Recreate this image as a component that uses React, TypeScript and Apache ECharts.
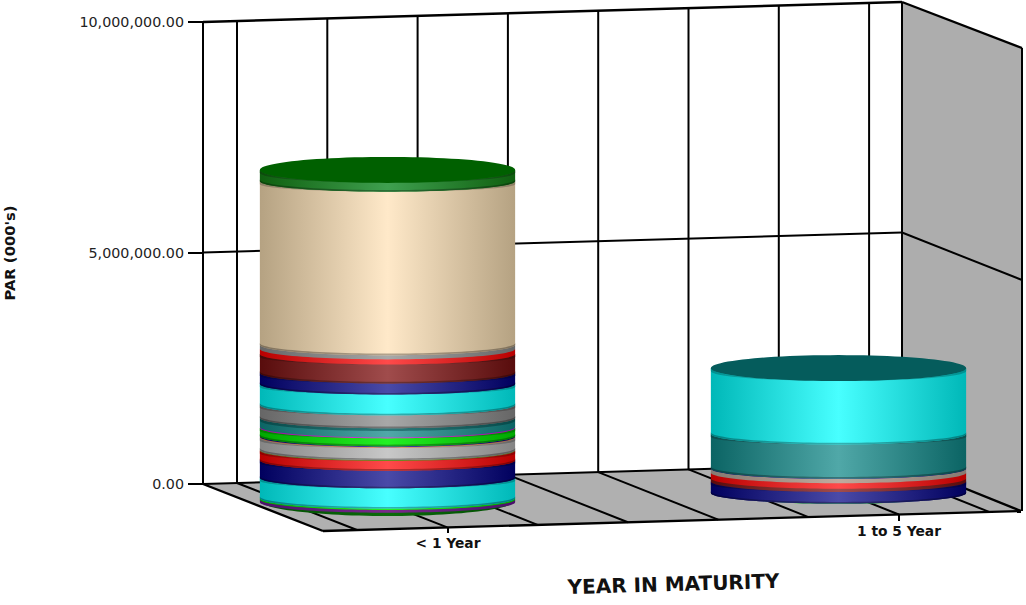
import React, { useEffect, useRef } from "react";
import * as echarts from "echarts";

const categories = ["< 1 Year", "1 to 5 Year"];
const yTicks = [0, 5000000, 10000000];

// stacked layers, bottom to top
const shortValues = [70000, 60000, 30000, 440000, 380000, 210000, 20000, 260000, 20000, 20000, 170000, 20000, 140000, 60000, 280000, 450000, 240000, 410000, 110000, 90000, 3540000, 190000];
const shortLayers = ["forest", "purple", "lime", "cyan", "navy", "red", "olive", "silver", "copper", "navy", "lime", "magenta", "teal", "deepTeal", "gray", "cyan", "navy", "maroon", "red", "gray", "tan", "rim"];
const longValues = [10000, 250000, 70000, 120000, 90000, 10000, 740000, 1370000];
const longLayers = ["lime", "navy", "maroon", "red", "rose", "navy", "teal", "cyan"];

const palette: Record<string, [string, string]> = {
  forest: ["#004d00", "#0a6a0a"],
  purple: ["#4b0f6b", "#7a2a8a"],
  lime: ["#00a800", "#24f024"],
  cyan: ["#00b8b8", "#48ffff"],
  navy: ["#00005e", "#4a4aa8"],
  red: ["#b80000", "#ff4a4a"],
  olive: ["#556b2f", "#6b8e23"],
  silver: ["#858585", "#c8c8c8"],
  copper: ["#a0603c", "#e09a78"],
  magenta: ["#a000a0", "#e040e0"],
  teal: ["#0b6464", "#50a8a8"],
  deepTeal: ["#064a4a", "#2d7a7a"],
  gray: ["#666666", "#a8a8a8"],
  maroon: ["#580c0c", "#a04c4c"],
  tan: ["#b5a282", "#ffe9c9"],
  rim: ["#0f5f0f", "#3fa04f"],
  rose: ["#857a72", "#c0aa9e"],
};
const capColors = ["#006000", "#055c5c"];

const LEFT_LABEL_FONT = "DejaVu Sans";
const OFFSET_X = -60.5;
const BASE_OFFSET_Y = [32, 20];
const RADIUS_RATIO = 0.283;
const RY_BOTTOM = 15.5;
const RY_MID = 10.5;
const RY_TOP = 13;

function shade(hex: string, f: number) {
  const n = parseInt(hex.slice(1), 16);
  const c = (s: number) => Math.round(((n >> s) & 255) * f);
  return `rgb(${c(16)},${c(8)},${c(0)})`;
}
function grad(pair: [string, string], f = 1) {
  return new echarts.graphic.LinearGradient(0, 0, 1, 0, [
    { offset: 0, color: shade(pair[0], f) },
    { offset: 0.5, color: shade(pair[1], f) },
    { offset: 1, color: shade(pair[0], f) },
  ]);
}
const STEPS = 56;
// front arc, left to right, whose lowest point is yFront
function arc(cx: number, yFront: number, rx: number, ry: number) {
  const pts: number[][] = [];
  for (let i = 0; i <= STEPS; i++) {
    const t = Math.PI - (i / STEPS) * Math.PI;
    pts.push([cx + rx * Math.cos(t), yFront - ry + ry * Math.sin(t)]);
  }
  return pts;
}

function buildRows() {
  const rows: (number | string)[][] = [];
  [shortValues, longValues].forEach((vals, c) => {
    const layers = c === 0 ? shortLayers : longLayers;
    let sum = 0;
    vals.forEach((v, i) => {
      rows.push([c, sum, sum + v, layers[i], i === 0 ? 1 : 0, i === vals.length - 1 ? 1 : 0]);
      sum += v;
    });
  });
  return rows;
}

function renderItem(params: any, api: any) {
  const c = api.value(0) as number;
  const from = api.value(1) as number;
  const to = api.value(2) as number;
  const row = (params as any).dataIndexInside;
  const info = buildRows()[row];
  const key = info[3] as string;
  const isFirst = info[4] === 1;
  const isLast = info[5] === 1;
  const band = api.size([1, 0])[0];
  const rx = band * RADIUS_RATIO;
  const cx = api.coord([c, 0])[0] + OFFSET_X;
  const yB = api.coord([c, from])[1] + BASE_OFFSET_Y[c];
  const yT = api.coord([c, to])[1] + BASE_OFFSET_Y[c];
  const ryB = isFirst ? RY_BOTTOM : RY_MID;
  const ryT = isLast ? RY_TOP : RY_MID;
  const pair = palette[key];
  const h = yB - yT;
  const chord = Math.min(yT - ryT, yB - ryB);
  const bottomArc = arc(cx, yB, rx, ryB);
  const children: any[] = [
    {
      type: "polygon",
      shape: { points: [[cx - rx, chord], [cx + rx, chord], ...bottomArc.slice().reverse()] },
      style: { fill: grad(pair) },
    },
  ];
  if (h > 7) {
    // darker wedge at the top of the layer: thick at the sides, vanishing at the middle
    const upper = arc(cx, yT, rx, ryT);
    const lower = arc(cx, yT, rx, Math.max(ryT - 3, 1));
    children.push({
      type: "polygon",
      shape: { points: [...upper, ...lower.slice().reverse()] },
      style: { fill: grad(pair, 0.78) },
    });
    // thin dark strip along the bottom
    const strip = arc(cx, yB - 1.6, rx, ryB);
    children.push({
      type: "polygon",
      shape: { points: [...bottomArc, ...strip.slice().reverse()] },
      style: { fill: grad(pair, 0.7) },
    });
  }
  if (isLast) {
    const pts: number[][] = [];
    for (let i = 0; i < 96; i++) {
      const t = (i / 96) * Math.PI * 2;
      pts.push([cx + rx * Math.cos(t), yT - RY_TOP + RY_TOP * Math.sin(t)]);
    }
    children.push({ type: "polygon", shape: { points: pts }, style: { fill: capColors[c] } });
  }
  return { type: "group", children };
}

// the perspective box: chrome, not data
const BACK_XS = [237, 327.3, 417.6, 507.9, 598.2, 688.5, 778.8, 869.1];
const DEPTH_DX = 120;
const backTop = (x: number) => 22 - ((x - 203) * 20) / 699;
const backBottom = (x: number) => 484 - ((x - 203) * 21) / 699;
const frontBottom = (x: number) => 531 - ((x - 323) * 20) / 697;
const black = { stroke: "#000", lineWidth: 2 };
const seg = (x1: number, y1: number, x2: number, y2: number, w = 2) => ({
  type: "line",
  shape: { x1, y1, x2, y2 },
  style: { ...black, lineWidth: w },
  silent: true,
});

function frame() {
  const els: any[] = [
    {
      type: "polygon",
      shape: { points: [[902, 2], [1022, 48], [1022, 511], [902, 463]] },
      style: { fill: "#adadad" },
      silent: true,
    },
    {
      type: "polygon",
      shape: { points: [[203, 484], [902, 463], [1021, 511], [323, 531]] },
      style: { fill: "#b0b0b0" },
      silent: true,
    },
    seg(203, 22, 902, 2, 2.4),
    seg(203, 252.5, 902, 232.5),
    seg(203, 484, 902, 463),
    seg(902, 2, 1022, 48, 2.4),
    seg(902, 232.5, 1022, 280),
    seg(902, 463, 1021, 511, 2.4),
    seg(1022, 48, 1022, 511),
    seg(203, 22, 203, 484),
    seg(902, 2, 902, 463),
    seg(203, 484, 323, 531, 2.4),
    seg(323, 531, 1021, 511, 2.4),
    seg(448, 527.5, 448, 533),
    seg(899, 515, 899, 521),
  ];
  BACK_XS.forEach((x) => {
    els.push(seg(x, backTop(x), x, backBottom(x)));
    const fx = x + DEPTH_DX;
    els.push(seg(x, backBottom(x), fx, frontBottom(fx)));
  });
  return els;
}

export default function App() {
  const ref = useRef<HTMLDivElement>(null);
  useEffect(() => {
    document.body.style.margin = "0";
    const chart = echarts.init(ref.current!, null, { renderer: "svg" });
    chart.setOption({
      animation: false,
      backgroundColor: "#ffffff",
      graphic: { elements: frame() },
      grid: { left: 222.5, top: 22, width: 902, height: 462, outerBoundsMode: "none" },
      xAxis: {
        type: "category",
        data: categories,
        boundaryGap: true,
        axisLine: { show: false },
        axisTick: { show: false },
        axisLabel: {
          margin: 40,
          interval: 0,
          hideOverlap: false,
          formatter: (v: string, i: number) => (i === 0 ? `{low|${v}}` : `{high|${v}}`),
          rich: {
            low: { fontFamily: LEFT_LABEL_FONT, fontWeight: "bold", fontSize: 13.8, color: "#111", padding: [12, 0, 0, 0] },
            high: { fontFamily: LEFT_LABEL_FONT, fontWeight: "bold", fontSize: 13.8, color: "#111" },
          },
        },
        name: "YEAR IN MATURITY",
        nameLocation: "middle",
        nameGap: 100,
        nameRotate: 1.65,
        nameTextStyle: { fontFamily: LEFT_LABEL_FONT, fontWeight: "bold", fontSize: 20, color: "#111", align: "center", verticalAlign: "middle" },
      },
      yAxis: {
        type: "value",
        min: 0,
        max: 10000000,
        interval: 5000000,
        offset: 19.5,
        splitLine: { show: false },
        axisLine: { show: false },
        axisTick: { show: true, length: 15, lineStyle: { color: "#000", width: 2 } },
        axisLabel: {
          margin: 19,
          fontFamily: LEFT_LABEL_FONT,
          fontSize: 14.3,
          color: "#222",
          formatter: (v: number) =>
            yTicks.includes(v) ? v.toLocaleString("en-US", { minimumFractionDigits: 2, maximumFractionDigits: 2 }) : "",
        },
        name: "PAR (000's)",
        nameLocation: "middle",
        nameGap: 186,
        nameRotate: 90,
        nameTextStyle: { fontFamily: LEFT_LABEL_FONT, fontWeight: "bold", fontSize: 14.8, color: "#111" },
      },
      series: [
        {
          type: "custom",
          renderItem,
          clip: false,
          silent: true,
          z: 5,
          encode: { x: 0, y: [1, 2] },
          data: buildRows(),
        },
      ],
    });
    return () => chart.dispose();
  }, []);
  return <div ref={ref} style={{ position: "absolute", left: 0, top: 0, width: 1026, height: 605 }} />;
}
